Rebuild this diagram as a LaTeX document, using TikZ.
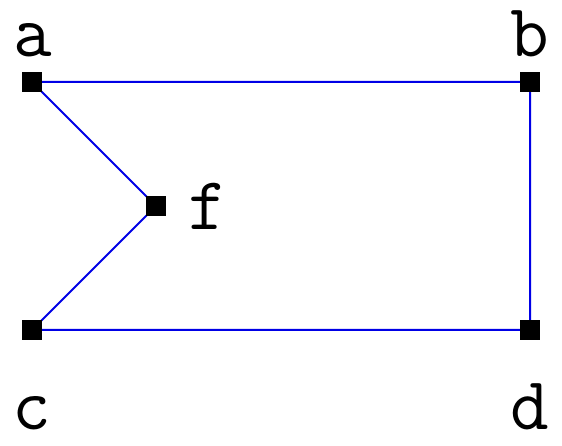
\documentclass[tikz,border=0pt]{standalone}
\begin{document}
\begin{tikzpicture}[x=1pt,y=1pt,
  pt/.style={draw=none,fill=black,minimum size=20pt,inner sep=0pt,outer sep=0pt},
  lbl/.style={anchor=base,inner sep=0pt,font=\ttfamily\fontsize{75}{75}\selectfont},
  edge/.style={draw={rgb,255:red,0;green,0;blue,230},line width=2pt}]
\useasboundingbox (0,0) rectangle (562,446);
\coordinate (a) at (32,364);
\coordinate (b) at (530,364);
\coordinate (c) at (32,116);
\coordinate (d) at (530,116);
\coordinate (f) at (156,240);
\draw[edge] (a) -- (b) -- (d) -- (c) -- (f) -- (a);
\node[pt] (na) at (a) {};
\node[pt] (nb) at (b) {};
\node[pt] (nc) at (c) {};
\node[pt] (nd) at (d) {};
\node[pt] (nf) at (f) {};
\node[lbl] (la) at (33,389) {a};
\node[lbl] (lb) at (530,389) {b};
\node[lbl] (lc) at (32,16) {c};
\node[lbl] (ld) at (530,16) {d};
\node[lbl] (lf) at (208,216) {f};
\end{tikzpicture}
\end{document}
